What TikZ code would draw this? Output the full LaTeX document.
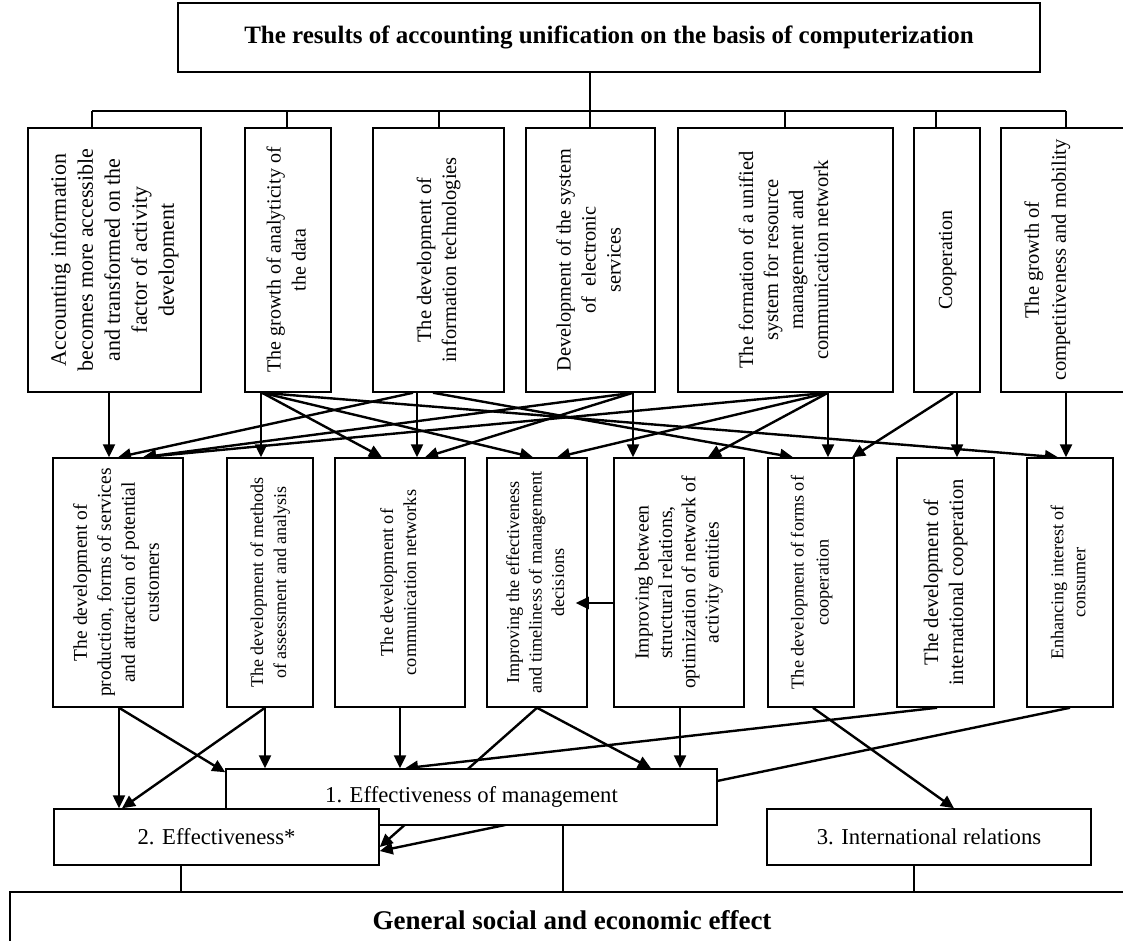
\documentclass[tikz,border=0pt]{standalone}
\usepackage{fontspec}
\setmainfont{Liberation Serif}
\usetikzlibrary{arrows.meta}
\pgfdeclarelayer{back}
\pgfsetlayers{back,main}
% vertical (bottom-to-top) multi-line label
\newcommand\vtext[3]{\rotatebox{90}{\fontsize{#1}{#2}\selectfont\begin{tabular}{@{}c@{}}#3\end{tabular}}}

\begin{document}
\begin{tikzpicture}[x=1pt,y=-1pt,
  frame/.style={draw, line width=1.5pt, fill=white, inner sep=0pt, rectangle},
  arr/.style={line width=2.4pt, -{Triangle[length=13pt,width=12pt]}},
  link/.style={line width=2pt},
  thinlink/.style={line width=1.4pt}
]
\useasboundingbox (0,0) rectangle (1123,940);
\clip (0,0) rectangle (1123,940);

% title
\node[frame, minimum width=862, minimum height=69] (T) at (609,37.5)
  {\bfseries\fontsize{25}{29}\selectfont The results of accounting unification on the basis of computerization};

% first row of factors
\node[frame, minimum width=173, minimum height=264] (A1) at (114.5,260)
  {\vtext{22}{27}{Accounting information\\ becomes more accessible\\ and transformed on the\\ factor of activity\\ development}};
\node[frame, minimum width=86, minimum height=264] (A2) at (288,260)
  {\vtext{20}{25}{The growth of analyticity of\\ the data}};
\node[frame, minimum width=131, minimum height=264] (A3) at (438.5,260)
  {\vtext{20.5}{25}{The development of\\ information technologies}};
\node[frame, minimum width=129, minimum height=264] (A4) at (590.5,260)
  {\vtext{20.3}{25}{Development of the system\\ of \ electronic\\ services}};
\node[frame, minimum width=215, minimum height=264] (A5) at (785.5,260)
  {\vtext{20.5}{25}{The formation of a unified\\ system for resource\\ management and\\ communication network}};
\node[frame, minimum width=66, minimum height=264] (A6) at (947,260)
  {\vtext{20}{25}{Cooperation}};
\node[frame, minimum width=139, minimum height=264] (A7) at (1070.5,260) {};
\node[inner sep=0pt] (A7t) at (1047,260)
  {\vtext{20.5}{27}{The growth of\\ competitiveness and mobility}};

% second row of outcomes
\node[frame, minimum width=130, minimum height=249] (B1) at (118,582.5)
  {\vtext{19.5}{24}{The development of\\ production, forms of services\\ and attraction of potential\\ customers}};
\node[frame, minimum width=86, minimum height=249] (B2) at (270,582.5)
  {\vtext{18}{23}{The development of methods\\ of assessment and analysis}};
\node[frame, minimum width=130, minimum height=249] (B3) at (400,582.5)
  {\vtext{18.3}{23}{The development of\\ communication networks}};
\node[frame, minimum width=100, minimum height=249] (B4) at (537,582.5)
  {\vtext{18.2}{22.5}{Improving the effectiveness\\ and timeliness of management\\ decisions}};
\node[frame, minimum width=130, minimum height=249] (B5) at (679,582.5)
  {\vtext{19.8}{23.3}{Improving between\\ structural relations,\\ optimization of network of\\ activity entities}};
\node[frame, minimum width=86, minimum height=249] (B6) at (811,582.5)
  {\vtext{18.2}{25}{The development of forms of\\ cooperation}};
\node[frame, minimum width=97, minimum height=249] (B7) at (945.5,582.5)
  {\vtext{20.6}{25}{The development of\\ international cooperation}};
\node[frame, minimum width=86, minimum height=249] (B8) at (1070,582.5)
  {\vtext{18.1}{22}{Enhancing interest of\\ consumer}};

% effects
\node[frame, minimum width=491, minimum height=56] (E1) at (471.5,797)
  {\fontsize{22.7}{27}\selectfont 1. Effectiveness of management};
\node[frame, minimum width=325, minimum height=56] (E2) at (216.5,837)
  {\fontsize{22.7}{27}\selectfont 2. Effectiveness*};
\node[frame, minimum width=324, minimum height=56] (E3) at (929,837)
  {\fontsize{22.7}{27}\selectfont 3. International relations};

% overall effect
\node[frame, minimum width=1130, minimum height=68] (Gbox) at (575,926) {};
\node[inner sep=0pt] (G) at (572,920)
  {\bfseries\fontsize{27}{32}\selectfont General social and economic effect};

\begin{pgfonlayer}{back}
% distribution bus from the title
\coordinate (busL) at (92,111);
\coordinate (busR) at (1066,111);
\draw[link] (busL) -- (busR);
\draw[link] (590,111 |- T.south) -- (590,111);
\foreach \n/\x in {A1/92, A2/287, A3/439, A4/590, A5/785, A6/936, A7/1066}
  \draw[link] (\x,111) -- (\x,111 |- \n.north);

% first row -> second row
\draw[arr] ([xshift=-5.5pt]A1.south) -- ([xshift=-9pt]B1.north);
\draw[arr] ([xshift=-27pt]A2.south) -- ([xshift=-9pt]B2.north);
\draw[arr] ([xshift=-26pt]A2.south) -- ([xshift=-18pt]B3.north);
\draw[arr] ([xshift=-26pt]A2.south) -- ([xshift=-4pt]B4.north);
\draw[arr] ([xshift=-26pt]A2.south) -- ([xshift=-12pt]B8.north);
\draw[arr] ([xshift=-25.5pt]A3.south) -- (B1.north);
\draw[arr] ([xshift=-21.5pt]A3.south) -- ([xshift=17pt]B3.north);
\draw[arr] ([xshift=-5.5pt]A3.south) -- ([xshift=-18pt]B6.north);
\draw[arr] ([xshift=42.5pt]A4.south) -- ([xshift=25pt]B1.north);
\draw[arr] ([xshift=42.5pt]A4.south) -- ([xshift=25pt]B3.north);
\draw[arr] ([xshift=42.5pt]A4.south) -- ([xshift=-46pt]B5.north);
\draw[arr] ([xshift=42.5pt]A5.south) -- ([xshift=25pt]B1.north);
\draw[arr] ([xshift=42.5pt]A5.south) -- ([xshift=20pt]B4.north);
\draw[arr] ([xshift=42.5pt]A5.south) -- ([xshift=29pt]B5.north);
\draw[arr] ([xshift=42.5pt]A5.south) -- ([xshift=17pt]B6.north);
\draw[arr] ([xshift=6pt]A6.south) -- ([xshift=41pt]B6.north);
\draw[arr] ([xshift=10pt]A6.south) -- ([xshift=11.5pt]B7.north);
\draw[arr] ([xshift=-4.5pt]A7.south) -- ([xshift=-4pt]B8.north);

% second row -> effects
\draw[arr] ([xshift=1pt]B1.south) -- ([xshift=-97.5pt]E2.north);
\draw[arr] ([xshift=1pt]B1.south) -- ([yshift=-4pt]E1.north west);
\draw[arr] ([xshift=-5pt]B2.south) -- ([xshift=-206.5pt]E1.north);
\draw[arr] ([xshift=-5pt]B2.south) -- ([xshift=-94.5pt]E2.north);
\draw[arr] (B3.south) -- ([xshift=-71.5pt]E1.north);
\draw[arr] (B4.south) -- ([xshift=179.5pt]E1.north);
\draw[arr] (B4.south) -- ([yshift=-10pt]E2.east);
\draw[arr] ([xshift=1pt]B5.south) -- ([xshift=208.5pt]E1.north);
\draw[arr] ([xshift=2pt]B6.south) -- ([xshift=25pt]E3.north);
\draw[arr] ([xshift=-8.5pt]B7.south) -- ([xshift=-66.5pt]E1.north);
\draw[arr] (B8.south) -- ([yshift=-14pt]E2.east);

% effects -> overall effect
\draw[thinlink] ([xshift=-35.5pt]E2.south) -- (181,892 |- Gbox.north);
\draw[thinlink] ([xshift=91.5pt]E1.south) -- (563,892 |- Gbox.north);
\draw[thinlink] ([xshift=-15pt]E3.south) -- (914,892 |- Gbox.north);
\end{pgfonlayer}

% structural relations feed management decisions
\draw[arr] ([yshift=-20.5pt]B5.west) -- ([xshift=-12pt,yshift=-20.5pt]B4.east);
\end{tikzpicture}
\end{document}
